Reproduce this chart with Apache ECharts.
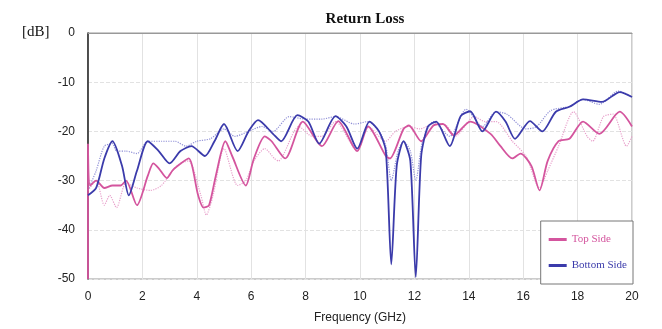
<!DOCTYPE html>
<html>
<head>
<meta charset="utf-8">
<script src="https://cdn.jsdelivr.net/npm/echarts@6/dist/echarts.min.js"></script>
<style>
html,body{margin:0;padding:0;background:#fff;}
#chart{width:662px;height:329px;}
</style>
</head>
<body>
<div id="chart"></div>
<script>
// Bottom Side (thick solid)
var bottomFreq = [0, 0.3, 0.6, 0.9, 1.25, 1.5, 1.8, 2.2, 2.6, 3.0, 3.4, 3.8, 4.3, 4.65, 5.0, 5.5, 5.9, 6.25, 6.8, 7.1, 7.7, 8.1, 8.5, 9.1, 9.5, 9.9, 10.35, 10.7, 10.95, 11.15, 11.35, 11.6, 11.85, 12.05, 12.25, 12.5, 12.8, 13.3, 13.7, 14.05, 14.5, 15.0, 15.35, 15.7, 16.25, 16.7, 17.2, 17.7, 18.2, 18.9, 19.55, 20];
var bottomDb = [-33, -31.5, -25.5, -22, -27, -33, -28, -22, -24, -26.5, -24, -23, -25, -22, -18.5, -24, -20, -17.7, -20.5, -22, -16.7, -18, -22.5, -16.9, -19, -23.5, -18, -20, -24, -47, -27, -22, -26, -49.6, -25, -19, -18, -23, -16.9, -15.9, -20, -16, -18, -21.5, -17.9, -20, -16, -15, -13.5, -14, -12, -13];
// Bottom Side (thin dotted)
var bottom2Freq = [0, 0.3, 0.6, 0.9, 1.05, 1.4, 1.8, 2.2, 2.7, 3.2, 3.6, 4.0, 4.5, 5.0, 5.4, 5.9, 6.4, 6.8, 7.4, 8.0, 8.6, 9.1, 9.8, 10.3, 10.7, 10.95, 11.15, 11.4, 11.6, 11.85, 12.05, 12.3, 12.7, 13.3, 13.9, 14.5, 15.0, 15.4, 16.1, 16.5, 17.0, 17.7, 18.2, 18.8, 19.5, 20];
var bottom2Db = [-32, -28, -23, -22.5, -24, -24, -24.5, -22, -22, -22, -23, -22, -21.5, -19.5, -21, -20, -19, -20, -17, -17.5, -17.5, -17, -18.5, -18, -20, -23, -30, -24, -22, -24, -30, -22, -18, -21, -15.5, -19, -16, -16.5, -19.5, -19, -15.8, -14.9, -13.5, -14.5, -11.8, -13];
// Top Side (thick solid)
var topFreq = [0, 0, 0.08, 0.3, 0.6, 0.9, 1.2, 1.4, 1.8, 2.2, 2.4, 2.6, 2.9, 3.1, 3.3, 3.7, 4.05, 4.25, 4.45, 4.7, 5.05, 5.3, 5.8, 6.1, 6.5, 6.75, 7.25, 7.9, 8.6, 9.2, 9.9, 10.3, 10.95, 11.1, 11.6, 11.8, 12.25, 12.7, 13.05, 13.45, 14.05, 14.8, 15.15, 15.6, 15.9, 16.3, 16.6, 16.9, 17.3, 17.7, 18.2, 18.8, 19.55, 20];
var topDb = [-50, -22.5, -31, -30, -31.5, -31, -31, -30, -35, -29, -26.5, -27.5, -29.5, -28, -27, -25.5, -33, -35.5, -35, -29, -22, -25, -31, -25.5, -21, -22, -25.5, -18, -23, -17.9, -24, -19, -25, -25.5, -19.5, -18.8, -22, -18.8, -18.5, -20.8, -18, -20.5, -22.9, -25.5, -24.5, -27, -32, -26, -22, -21.5, -18, -20.5, -16, -19];
// Top Side (thin dotted)
var top2Freq = [0, 0.3, 0.6, 0.8, 1.05, 1.4, 1.8, 2.3, 2.7, 3.1, 3.4, 3.7, 4.15, 4.35, 4.6, 5.0, 5.5, 5.8, 6.1, 6.5, 6.85, 7.0, 7.75, 8.25, 8.6, 9.1, 9.9, 10.3, 10.95, 11.3, 11.8, 12.2, 12.7, 13.15, 13.5, 14.2, 14.6, 15.0, 15.6, 16.1, 16.6, 16.9, 17.3, 17.85, 18.35, 18.55, 18.95, 19.3, 19.8, 20];
var top2Db = [-32, -30, -35, -33, -35.5, -30.5, -31.5, -32, -31, -28, -26.5, -26, -33, -37, -33, -23.5, -31, -30, -26, -23.5, -25.5, -26, -19, -21, -21, -18, -24, -19, -22, -20, -19, -19.5, -18.5, -18.7, -21, -17, -18, -18, -22, -25, -31.5, -28, -23, -16, -21, -22, -17, -16.5, -23, -21];

var xTicks = [0, 2, 4, 6, 8, 10, 12, 14, 16, 18, 20];
var yTicks = [0, -10, -20, -30, -40, -50];

function pairs(xs, ys) { return xs.map(function (x, i) { return [x, ys[i]]; }); }

var pink = '#d4559e', pinkLight = '#e8a0cb', blue = '#3b3bab', blueLight = '#8f8fd6';

var chart = echarts.init(document.getElementById('chart'), null, { renderer: 'canvas' });
chart.setOption({
  animation: false,
  backgroundColor: '#fff',
  title: {
    text: 'Return Loss', left: 360, top: 7, textAlign: 'center',
    textStyle: { fontFamily: 'Liberation Serif', fontWeight: 'bold', fontSize: 15, color: '#111' }
  },
  graphic: [{
    type: 'text', left: 22, top: 25,
    style: { text: '[dB]', fontFamily: 'Liberation Serif', fontSize: 15, fill: '#111' }
  }],
  grid: { left: 88, right: 30, top: 33, bottom: 47, show: true, borderColor: '#999', borderWidth: 1 },
  legend: {
    orient: 'vertical', right: 29, top: 221,
    padding: [13, 6, 13, 8], itemGap: 15,
    backgroundColor: '#fff', borderColor: '#777', borderWidth: 1,
    icon: 'rect', itemWidth: 18, itemHeight: 3,
    textStyle: { fontFamily: 'Liberation Serif', fontSize: 11 },
    data: [
      { name: 'Top Side', textStyle: { color: pink } },
      { name: 'Bottom Side', textStyle: { color: blue } }
    ]
  },
  xAxis: {
    type: 'value', min: xTicks[0], max: xTicks[xTicks.length - 1], interval: 2,
    name: 'Frequency (GHz)', nameLocation: 'middle', nameGap: 33,
    nameTextStyle: { fontFamily: 'Liberation Sans', fontSize: 12, color: '#222' },
    axisLine: { show: true, lineStyle: { color: '#999' } },
    axisTick: { show: false },
    axisLabel: { margin: 12, fontFamily: 'Liberation Sans', fontSize: 12, color: '#222',
      formatter: function (v) { return xTicks.indexOf(v) >= 0 ? String(v) : ''; } },
    splitLine: { show: true, lineStyle: { color: '#e2e2e2', width: 1 } }
  },
  yAxis: {
    type: 'value', min: yTicks[yTicks.length - 1], max: yTicks[0], interval: 10,
    axisLine: { show: true, onZero: false, lineStyle: { color: '#222', width: 1.5 } },
    axisTick: { show: false },
    axisLabel: { margin: 13, fontFamily: 'Liberation Sans', fontSize: 12, color: '#222' },
    splitLine: { show: true, lineStyle: { color: '#e2e2e2', type: 'dashed', width: 1 } }
  },
  series: [
    { name: 'Top Side 2', type: 'line', data: pairs(top2Freq, top2Db), showSymbol: false, smooth: 0.25,
      lineStyle: { color: pinkLight, width: 1.2, type: 'dotted' }, itemStyle: { color: pinkLight } },
    { name: 'Bottom Side 2', type: 'line', data: pairs(bottom2Freq, bottom2Db), showSymbol: false, smooth: 0.25,
      lineStyle: { color: blueLight, width: 1.2, type: 'dotted' }, itemStyle: { color: blueLight } },
    { name: 'Top Side', type: 'line', data: pairs(topFreq, topDb), showSymbol: false, smooth: 0.25,
      lineStyle: { color: pink, width: 1.8 }, itemStyle: { color: pink } },
    { name: 'Bottom Side', type: 'line', data: pairs(bottomFreq, bottomDb), showSymbol: false, smooth: 0.25,
      lineStyle: { color: blue, width: 1.8 }, itemStyle: { color: blue } }
  ]
});
</script>
</body>
</html>
